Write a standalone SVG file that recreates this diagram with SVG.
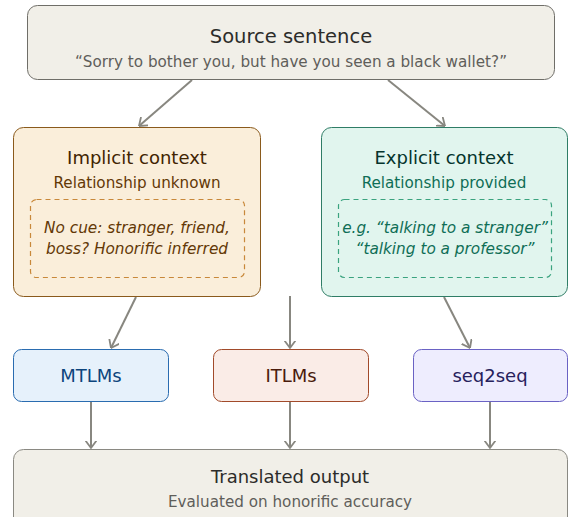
<svg xmlns="http://www.w3.org/2000/svg" width="568" height="517" viewBox="0 0 568 517">
  <style>
    text { font-family: "DejaVu Sans", "Liberation Sans", sans-serif; text-anchor: middle; }
    .t18 { font-size: 18px; }
    .big { font-size: 19.5px; }
    .sub { font-size: 15.2px; }
    .it { font-size: 15.3px; font-style: italic; }
    .edge { fill: none; stroke: #888780; stroke-width: 2; }
    .dash { fill: none; stroke-width: 1.2; stroke-dasharray: 5 4; }
  </style>
  <defs>
    <marker id="arrow" viewBox="0 0 8 12" refX="7.5" refY="6" markerWidth="8" markerHeight="12" orient="auto-start-reverse" markerUnits="userSpaceOnUse">
      <path d="M0.5 0.8 L7.5 6 L0.5 11.2" fill="none" stroke="#888780" stroke-width="1.8" stroke-linecap="round" stroke-linejoin="round"/>
    </marker>
  </defs>
  <rect width="568" height="517" fill="#ffffff"/>

  <g id="connectors">
    <line class="edge" x1="192" y1="80" x2="139" y2="126" marker-end="url(#arrow)"/>
    <line class="edge" x1="388" y1="80" x2="445" y2="126" marker-end="url(#arrow)"/>
    <line class="edge" x1="136" y1="297" x2="111" y2="348" marker-end="url(#arrow)"/>
    <line class="edge" x1="290" y1="296" x2="290" y2="348" marker-end="url(#arrow)"/>
    <line class="edge" x1="444" y1="297" x2="470" y2="348" marker-end="url(#arrow)"/>
    <line class="edge" x1="91" y1="402" x2="91" y2="448" marker-end="url(#arrow)"/>
    <line class="edge" x1="290" y1="402" x2="290" y2="448" marker-end="url(#arrow)"/>
    <line class="edge" x1="490" y1="402" x2="490" y2="448" marker-end="url(#arrow)"/>
  </g>

  <g id="source">
    <rect x="27.5" y="5.5" width="527" height="74" rx="10" fill="#f1efe8" stroke="#6f6e68" stroke-width="1"/>
    <text class="big" x="291" y="43" fill="#2c2c2a">Source sentence</text>
    <text class="sub" x="291" y="67" fill="#5f5e5a">“Sorry to bother you, but have you seen a black wallet?”</text>
  </g>

  <g id="implicit">
    <rect x="13.5" y="127.5" width="247" height="169" rx="10" fill="#faeeda" stroke="#8a5a1c" stroke-width="1"/>
    <text class="t18" x="137" y="164" fill="#412402">Implicit context</text>
    <text class="sub" x="137" y="188" fill="#633806">Relationship unknown</text>
    <rect class="dash" x="30.5" y="199.5" width="214" height="78" rx="6" stroke="#c8883a"/>
    <text class="it" x="137" y="233" fill="#633806">No cue: stranger, friend,</text>
    <text class="it" x="137" y="254" fill="#633806">boss? Honorific inferred</text>
  </g>

  <g id="explicit">
    <rect x="321.5" y="127.5" width="246" height="169" rx="10" fill="#e1f5ee" stroke="#2f7d66" stroke-width="1"/>
    <text class="t18" x="444" y="164" fill="#04342c">Explicit context</text>
    <text class="sub" x="444" y="188" fill="#0f6e56">Relationship provided</text>
    <rect class="dash" x="338.5" y="199.5" width="213" height="78" rx="6" stroke="#3aa37f"/>
    <text class="it" x="445" y="233" fill="#0f6e56">e.g. “talking to a stranger”</text>
    <text class="it" x="445" y="254" fill="#0f6e56">“talking to a professor”</text>
  </g>

  <g id="mtlms">
    <rect x="13.5" y="349.5" width="155" height="52" rx="8" fill="#e6f1fb" stroke="#2a6cb0" stroke-width="1"/>
    <text class="t18" x="91" y="382" fill="#0c447c">MTLMs</text>
  </g>

  <g id="itlms">
    <rect x="213.5" y="349.5" width="155" height="52" rx="8" fill="#faece7" stroke="#a14a2a" stroke-width="1"/>
    <text class="t18" x="291" y="382" fill="#4a1b0c">ITLMs</text>
  </g>

  <g id="seq2seq">
    <rect x="413.5" y="349.5" width="154" height="52" rx="8" fill="#eeedfe" stroke="#6a62c4" stroke-width="1"/>
    <text class="t18" x="490" y="382" fill="#26215c">seq2seq</text>
  </g>

  <g id="output">
    <rect x="13.5" y="449.5" width="554" height="80" rx="10" fill="#f1efe8" stroke="#8a8982" stroke-width="1"/>
    <text class="t18" x="290" y="483" fill="#2c2c2a">Translated output</text>
    <text class="sub" x="290" y="507" fill="#5f5e5a">Evaluated on honorific accuracy</text>
  </g>
</svg>
